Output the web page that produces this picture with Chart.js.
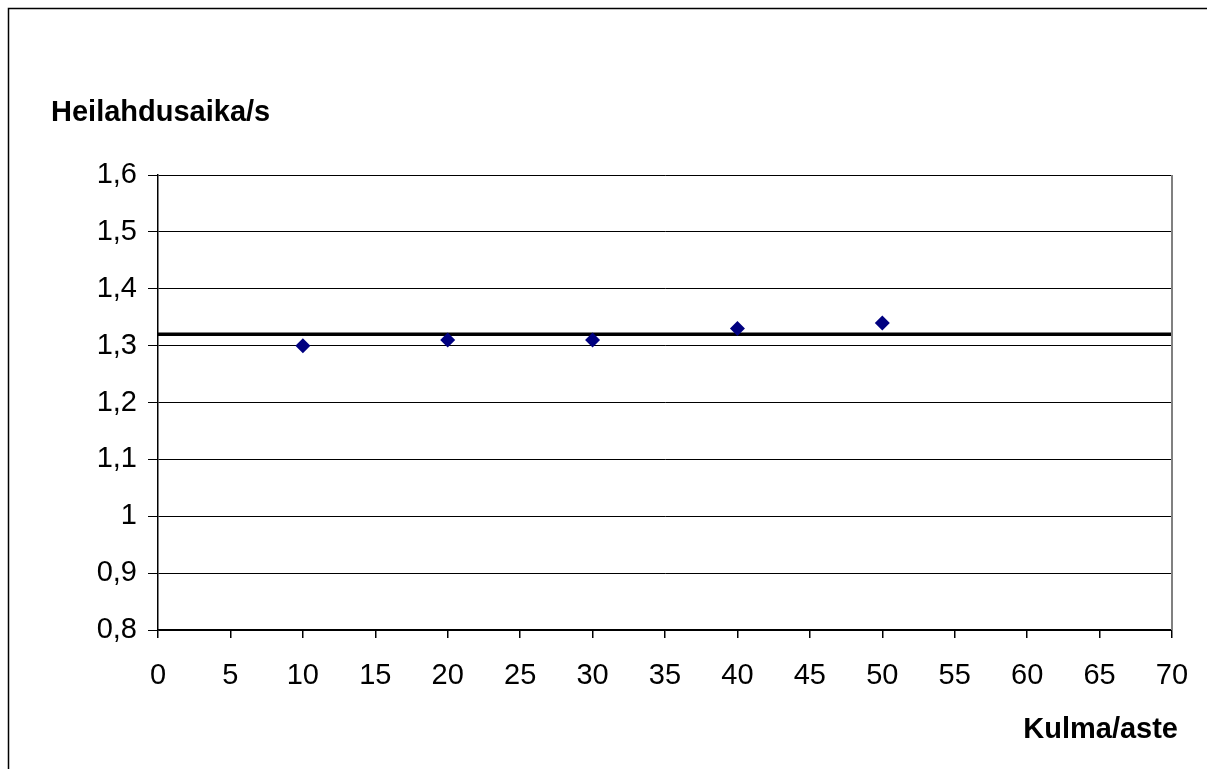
<!DOCTYPE html>
<html>
<head>
<meta charset="utf-8">
<script src="https://cdn.jsdelivr.net/npm/chart.js@4/dist/chart.umd.min.js"></script>
<style>
html,body{margin:0;padding:0;background:#fff;}
#wrap{width:1207px;height:769px;position:relative;}
</style>
</head>
<body>
<div id="wrap"><canvas id="c" width="1207" height="769"></canvas></div>
<script>
const angles = [10, 20, 30, 40, 50];
const periods = [1.30, 1.31, 1.31, 1.33, 1.34];
const meanX = [0, 70];
const meanY = [1.32, 1.32];
const yTitle = 'Heilahdusaika/s';
const xTitle = 'Kulma/aste';
const xMin = 0, xMax = 70, xStep = 5;
const yMin = 0.8, yMax = 1.6, yStep = 0.1;

const FONT = "'Liberation Sans', Arial, sans-serif";

const deco = {
  id: 'deco',
  beforeDraw(chart) {
    const ctx = chart.ctx;
    ctx.save();
    ctx.fillStyle = '#fff';
    ctx.fillRect(0, 0, chart.width, chart.height);
    ctx.strokeStyle = '#000';
    ctx.lineWidth = 1.5;
    ctx.strokeRect(8.5, 8.5, 1400, 1000);
    ctx.restore();
  },
  afterDatasetsDraw(chart) {
    const ctx = chart.ctx;
    const a = chart.chartArea;
    ctx.save();
    ctx.strokeStyle = '#808080';
    ctx.lineWidth = 2;
    ctx.beginPath();
    ctx.moveTo(a.right, a.top);
    ctx.lineTo(a.right, a.bottom);
    ctx.stroke();
    ctx.fillStyle = '#000';
    ctx.font = "bold 29px " + FONT;
    ctx.textBaseline = 'alphabetic';
    ctx.textAlign = 'left';
    ctx.fillText(yTitle, 51, 121);
    ctx.textAlign = 'right';
    ctx.fillText(xTitle, 1178, 738);
    ctx.restore();
  }
};

new Chart(document.getElementById('c'), {
  type: 'scatter',
  data: {
    datasets: [
      {
        type: 'line',
        data: meanX.map((x, i) => ({x, y: meanY[i]})),
        borderColor: '#000',
        borderWidth: 3.5,
        pointRadius: 0,
        fill: false,
        order: 2
      },
      {
        data: angles.map((x, i) => ({x, y: periods[i]})),
        backgroundColor: '#000080',
        borderColor: '#000080',
        pointStyle: 'rectRot',
        pointRadius: 7.5,
        borderWidth: 0,
        order: 1
      }
    ]
  },
  options: {
    responsive: false,
    animation: false,
    devicePixelRatio: 1,
    layout: { padding: { left: 0, top: 175, right: 35, bottom: 0 } },
    plugins: { legend: { display: false }, tooltip: { enabled: false } },
    scales: {
      x: {
        type: 'linear',
        min: xMin, max: xMax,
        afterFit(s) { s.height = 139; s.paddingLeft = 0; s.paddingRight = 0; },
        ticks: { stepSize: xStep, color: '#000', font: { family: FONT, size: 29 }, padding: 21, maxRotation: 0,
                 callback: v => String(v) },
        grid: { drawOnChartArea: false, drawTicks: true, tickLength: 8, color: '#000', lineWidth: 1.5 },
        border: { color: '#000', width: 1.5 }
      },
      y: {
        type: 'linear',
        min: yMin, max: yMax,
        afterFit(s) { s.width = 158; s.paddingTop = 0; s.paddingBottom = 0; },
        ticks: { stepSize: yStep, color: '#000', font: { family: FONT, size: 29 }, padding: 11,
                 callback: v => { const r = Math.round(v * 10) / 10; return String(r).replace('.', ','); } },
        grid: { color: '#000', lineWidth: 1, tickLength: 10 },
        border: { color: '#000', width: 1.5 }
      }
    }
  },
  plugins: [deco]
});
</script>
</body>
</html>
